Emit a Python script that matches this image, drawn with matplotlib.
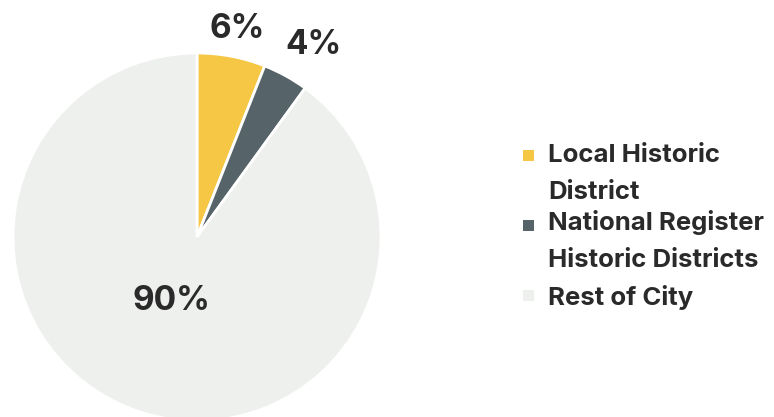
import matplotlib
matplotlib.use("Agg")
import matplotlib.pyplot as plt
from matplotlib.patches import Rectangle
import numpy as np

categories = ["Local Historic\nDistrict", "National Register\nHistoric Districts", "Rest of City"]
values = [6, 4, 90]
pct_labels = ["6%", "4%", "90%"]
colors = ["#F6C744", "#56646A", "#EEF0ED"]

plt.rcParams['font.family'] = ['Inter', 'DejaVu Sans']
text_color = "#2A2A2A"

W, H = 774, 417
fig = plt.figure(figsize=(W / 100, H / 100), dpi=100)
fig.patch.set_facecolor("white")

cx, cy, r = 197, 237, 184
ax = fig.add_axes([(cx - r) / W, (H - cy - r) / H, 2 * r / W, 2 * r / H])
wedges, _ = ax.pie(values, colors=colors, startangle=90, counterclock=False,
                   radius=1, wedgeprops=dict(edgecolor="white", linewidth=2))
ax.set_xlim(-1, 1)
ax.set_ylim(-1, 1)
ax.set_aspect("auto")
ax.axis("off")

label_dist = [1.17, 1.24, 0.36]
label_dang = [0, -2, -5]
for w, lab, d, da in zip(wedges, pct_labels, label_dist, label_dang):
    ang = np.deg2rad((w.theta1 + w.theta2) / 2 + da)
    ax.text(d * np.cos(ang), d * np.sin(ang), lab, ha="center", va="center_baseline",
            fontsize=24, fontweight="bold", color=text_color, clip_on=False)

# legend (drawn line by line so the swatch sits beside the first line)
legend_fs = 18.5
line_step = 37
first_baselines = [162, 230, 305]
sq_tops = [150, 220, 290]
for lab, col, bl, st in zip(categories, colors, first_baselines, sq_tops):
    fig.add_artist(Rectangle((523 / W, 1 - (st + 11) / H), 11 / W, 11 / H,
                             transform=fig.transFigure, facecolor=col, edgecolor="none"))
    for k, line in enumerate(lab.split("\n")):
        fig.text(548 / W, 1 - (bl + k * line_step) / H, line, ha="left", va="baseline",
                 fontsize=legend_fs, fontweight="bold", color=text_color)

fig.savefig("out.png", dpi=100)
